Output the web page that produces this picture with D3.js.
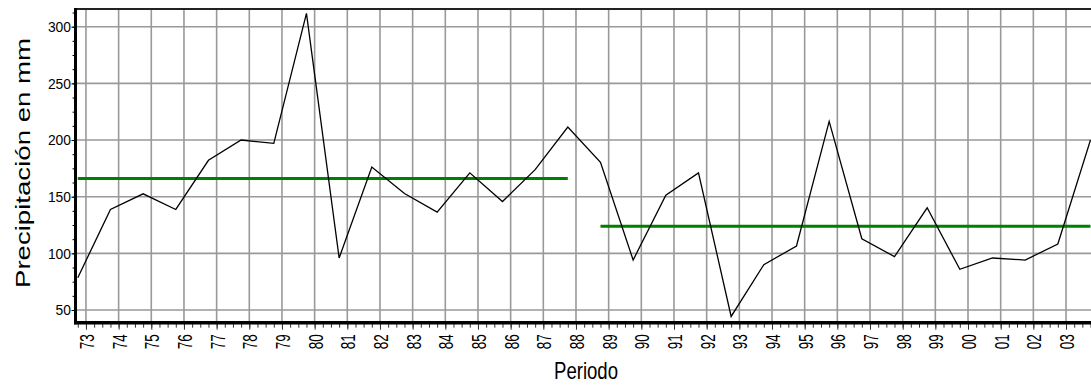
<!DOCTYPE html>
<html>
<head>
<meta charset="utf-8">
<script src="https://cdn.jsdelivr.net/npm/d3@7"></script>
<style>
  html, body { margin: 0; padding: 0; background: #fff; }
  svg { display: block; }
  text { font-family: "Liberation Sans", Arial, sans-serif; fill: #000; }
</style>
</head>
<body>
<svg id="chart" width="1091" height="385"></svg>
<script>
// ---- data ----
const periodStart = [72.75, 73.75, 74.75, 75.75, 76.75, 77.75, 78.75, 79.75, 80.75, 81.75,
                     82.75, 83.75, 84.75, 85.75, 86.75, 87.75, 88.75, 89.75, 90.75, 91.75,
                     92.75, 93.75, 94.75, 95.75, 96.75, 97.75, 98.75, 99.75, 100.75, 101.75,
                     102.75, 103.75];
const precip = [78.5, 138.7, 152.5, 138.7, 182.1, 200, 197, 311.7, 95.9, 176.2,
                152.8, 136.4, 171, 145.7, 173.9, 211.4, 180.4, 94.1, 151.3, 171,
                44.3, 90, 106.5, 216.4, 112.9, 97.1, 140.2, 85.9, 95.9, 94.1,
                108.2, 200];
const meanValues = [166, 124];
const meanFrom = [72.75, 88.75];
const meanTo = [87.75, 103.75];
const xTickYears = [73, 74, 75, 76, 77, 78, 79, 80, 81, 82, 83, 84, 85, 86, 87, 88, 89, 90,
                    91, 92, 93, 94, 95, 96, 97, 98, 99, 100, 101, 102, 103];
const xTickLabels = ["73", "74", "75", "76", "77", "78", "79", "80", "81", "82", "83", "84",
                     "85", "86", "87", "88", "89", "90", "91", "92", "93", "94", "95", "96",
                     "97", "98", "99", "00", "01", "02", "03"];
const yTicks = [50, 100, 150, 200, 250, 300];
const yTickLabels = ["50", "100", "150", "200", "250", "300"];

(function () {
// ---- layout ----
const svg = d3.select("#chart");
const pLeft = 75.5, pRight = 1091, pTop = 9, pBottom = 322.7;

const x = d3.scaleLinear().domain([72.68, 103.765]).range([pLeft, pRight]);
const y = d3.scaleLinear().domain([38.8, 315.6]).range([pBottom, pTop]);

// grid
const grid = svg.append("g");
grid.selectAll("line.h").data(yTicks).join("line").attr("class", "h")
  .attr("x1", pLeft).attr("x2", pRight)
  .attr("y1", d => y(d)).attr("y2", d => y(d))
  .attr("stroke", "#999").attr("stroke-width", 1.6);
grid.selectAll("line.v").data(xTickYears).join("line").attr("class", "v")
  .attr("x1", d => x(d)).attr("x2", d => x(d))
  .attr("y1", pTop).attr("y2", pBottom)
  .attr("stroke", "#999").attr("stroke-width", 1.6);

// top border
svg.append("line").attr("x1", pLeft).attr("x2", pRight).attr("y1", pTop).attr("y2", pTop)
  .attr("stroke", "#222").attr("stroke-width", 2);

// mean lines
svg.append("g").selectAll("line").data(meanValues).join("line")
  .attr("x1", (d, i) => x(meanFrom[i])).attr("x2", (d, i) => x(meanTo[i]))
  .attr("y1", d => y(d)).attr("y2", d => y(d))
  .attr("stroke", "#008000").attr("stroke-width", 3);

// series line
const line = d3.line().x((d, i) => x(periodStart[i])).y(d => y(d));
svg.append("path").datum(precip)
  .attr("d", line).attr("fill", "none")
  .attr("stroke", "#000").attr("stroke-width", 1.3).attr("stroke-linejoin", "miter");

// y minor ticks
const yMinor = d3.range(0, 23).map(i => 37.5 + i * 12.5).filter(v => v > 38.8 && v < 315.6);
svg.append("g").attr("transform", `translate(${pLeft},0)`)
  .call(d3.axisLeft(y).tickValues(yMinor).tickSize(3).tickFormat(""))
  .call(g => g.select(".domain").remove())
  .selectAll("line").attr("stroke", "#000").attr("stroke-width", 1);

// y axis major
const yAxis = svg.append("g").attr("transform", `translate(${pLeft},0)`)
  .call(d3.axisLeft(y).tickValues(yTicks).tickSize(4).tickFormat((d, i) => yTickLabels[i]));
yAxis.select(".domain").remove();
yAxis.selectAll("line").attr("stroke", "#000");
yAxis.selectAll("text")
  .attr("x", -4.5)
  .attr("font-size", 15)
  .attr("textLength", (d, i) => yTickLabels[i].length * 7.7)
  .attr("lengthAdjust", "spacingAndGlyphs")
  .style("font-family", "'Liberation Sans', Arial, sans-serif");

// x minor ticks
const xMinor = d3.range(0, 125).map(i => 72.75 + i * 0.25).filter(v => v > 72.7 && v < 103.8);
svg.append("g").attr("transform", `translate(0,${pBottom})`)
  .call(d3.axisBottom(x).tickValues(xMinor).tickSize(5).tickFormat(""))
  .call(g => g.select(".domain").remove())
  .selectAll("line").attr("stroke", "#333").attr("stroke-width", 1);

// x axis major
const xAxis = svg.append("g").attr("transform", `translate(0,${pBottom})`)
  .call(d3.axisBottom(x).tickValues(xTickYears).tickSize(7).tickFormat(""));
xAxis.select(".domain").remove();
xAxis.selectAll("line").attr("stroke", "#333").attr("stroke-width", 1);
xAxis.selectAll(".tick").append("text")
  .attr("transform", "translate(0,11.5) rotate(-90)")
  .attr("text-anchor", "end")
  .attr("dy", "0.36em")
  .attr("font-size", 21)
  .attr("textLength", 15)
  .attr("lengthAdjust", "spacingAndGlyphs")
  .attr("fill", "#000")
  .text((d, i) => xTickLabels[i]);

// axis lines (thick)
svg.append("line").attr("x1", pLeft).attr("x2", pLeft).attr("y1", pTop - 1).attr("y2", pBottom + 1.5)
  .attr("stroke", "#000").attr("stroke-width", 3);
svg.append("line").attr("x1", pLeft - 1.5).attr("x2", pRight).attr("y1", pBottom).attr("y2", pBottom)
  .attr("stroke", "#000").attr("stroke-width", 3.5);

// axis titles
svg.append("text")
  .attr("transform", `translate(30,${(38 + 288) / 2}) rotate(-90)`)
  .attr("text-anchor", "middle")
  .attr("font-size", 20)
  .attr("textLength", 250)
  .attr("lengthAdjust", "spacingAndGlyphs")
  .text("Precipitación en mm");

svg.append("text")
  .attr("x", 586).attr("y", 379)
  .attr("text-anchor", "middle")
  .attr("font-size", 24)
  .attr("textLength", 64)
  .attr("lengthAdjust", "spacingAndGlyphs")
  .text("Periodo");
})();
</script>
</body>
</html>
